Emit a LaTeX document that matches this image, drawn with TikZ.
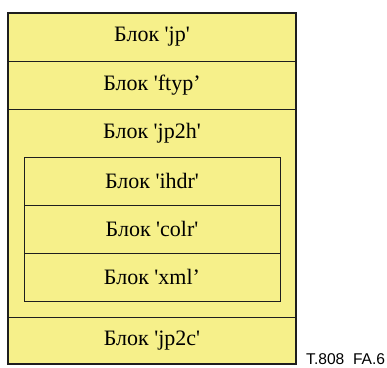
\documentclass[tikz,border=0pt]{standalone}
\usepackage{fontspec}
\setmainfont{Liberation Serif}
\newfontfamily\labelfont{Liberation Sans}
\usetikzlibrary{positioning}
\definecolor{boxyellow}{RGB}{246,240,138}
\definecolor{boxline}{RGB}{30,30,30}

\begin{document}
\begin{tikzpicture}[x=1pt, y=-1pt,
    blk/.style={draw=boxline, line width=0.8pt, fill=boxyellow, minimum height=48pt, inner sep=0pt, font=\fontsize{22}{24}\selectfont},
    outerblk/.style={blk, minimum width=288pt},
    innerblk/.style={blk, minimum width=256pt}]
  \useasboundingbox (0,0) rectangle (387,367);

  % Box 'jp2h' (container)
  \draw[boxline, line width=0.8pt, fill=boxyellow] (8,109.5) rectangle (296,317);
  \node[font=\fontsize{22}{24}\selectfont] (jp2h) at (152,133) {Блок \textquotesingle jp2h\textquotesingle};

  % Top-level boxes
  \node[outerblk] (jp)   at (152,37)   {Блок \textquotesingle jp\textquotesingle};
  \node[outerblk] (ftyp) at (152,85.2) {Блок \textquotesingle ftyp’};
  \node[outerblk, minimum height=47pt] (jp2c) at (152,340.5) {Блок \textquotesingle jp2c\textquotesingle};

  % Boxes inside 'jp2h'
  \node[innerblk] (ihdr) at (152,181) {Блок \textquotesingle ihdr\textquotesingle};
  \node[innerblk] (colr) at (152,229) {Блок \textquotesingle colr\textquotesingle};
  \node[innerblk] (xml)  at (152,277) {Блок \textquotesingle xml’};

  % Outer frame
  \draw[boxline, line width=1.3pt] (8,13) rectangle (296,364);

  % Figure label
  \node[anchor=base west, font=\labelfont\fontsize{15.6}{17}\selectfont, inner sep=0pt] (figlabel) at (306,364.5) {T.808\ \ FA.6};
\end{tikzpicture}
\end{document}
